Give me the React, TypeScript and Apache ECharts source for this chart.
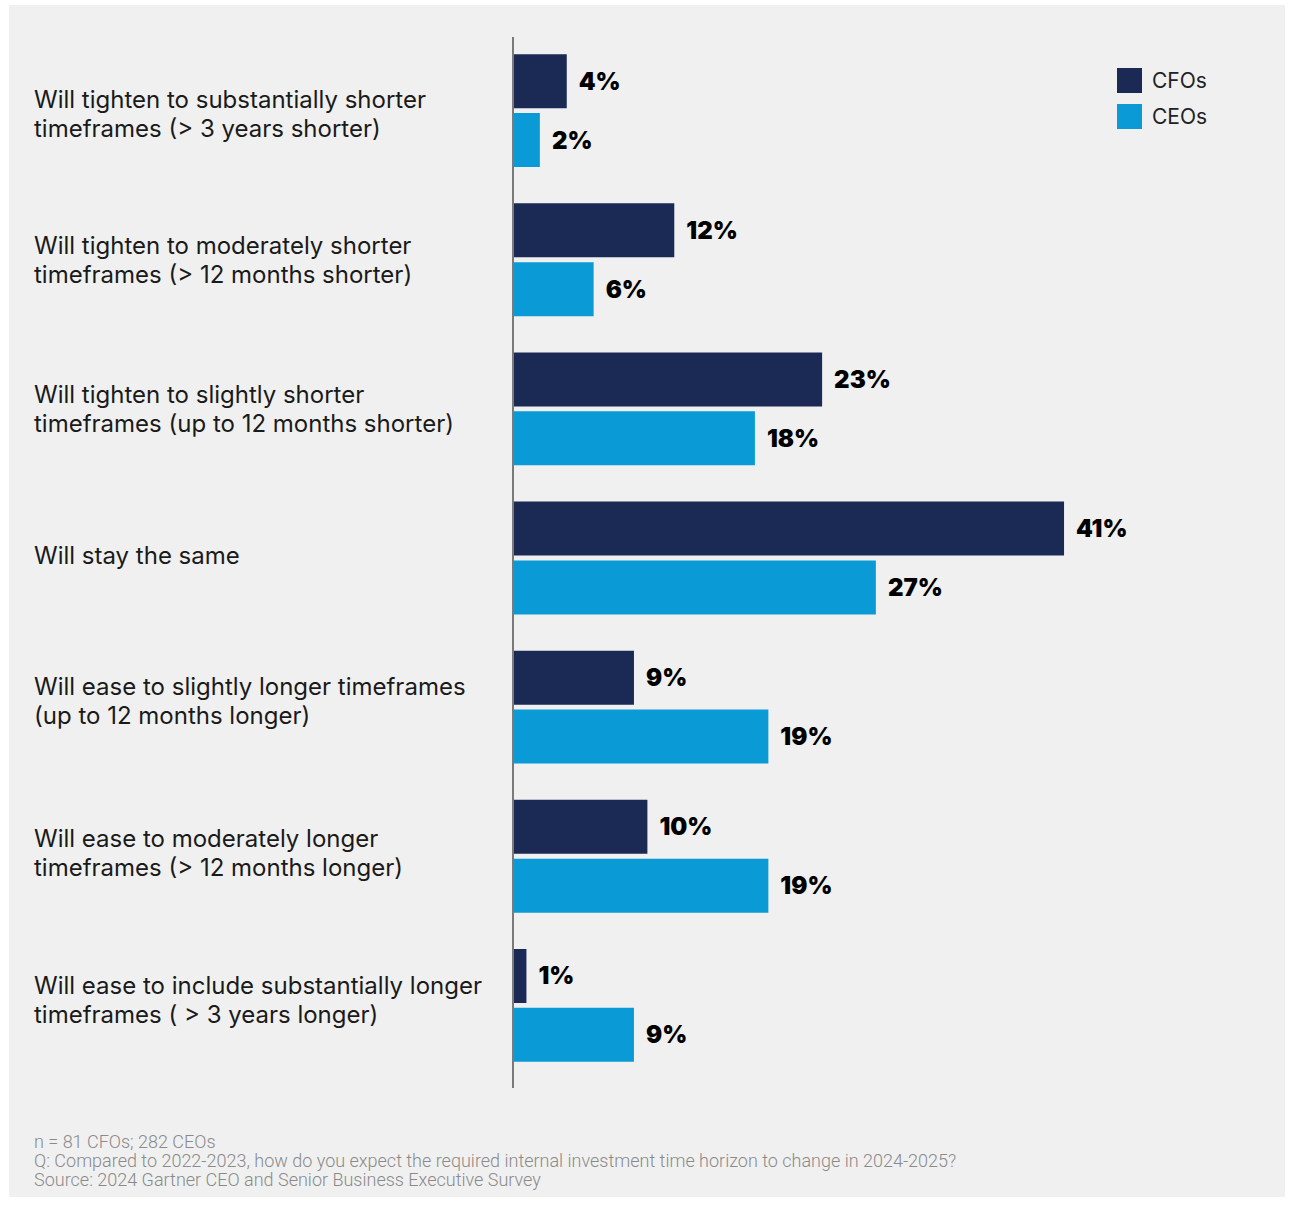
import React, { useEffect, useRef } from "react";
import * as echarts from "echarts";

const categories = [
  "Will tighten to substantially shorter\ntimeframes (> 3 years shorter)",
  "Will tighten to moderately shorter\ntimeframes (> 12 months shorter)",
  "Will tighten to slightly shorter\ntimeframes (up to 12 months shorter)",
  "Will stay the same",
  "Will ease to slightly longer timeframes\n(up to 12 months longer)",
  "Will ease to moderately longer\ntimeframes (> 12 months longer)",
  "Will ease to include substantially longer\ntimeframes ( > 3 years longer)",
];
const labelShifts = [3, 0, 0, -3, -6, -3, -5];
const seriesNames = ["CFOs", "CEOs"];
const cfoValues = [4, 12, 23, 41, 9, 10, 1];
const ceoValues = [2, 6, 18, 27, 19, 19, 9];
const footnotes = [
  "n = 81 CFOs; 282 CEOs",
  "Q: Compared to 2022-2023, how do you expect the required internal investment time horizon to change in 2024-2025?",
  "Source: 2024 Gartner CEO and Senior Business Executive Survey",
];

const CFO_COLOR = "#1a2a55";
const CEO_COLOR = "#0a9bd6";

export default function App() {
  const ref = useRef<HTMLDivElement>(null);
  useEffect(() => {
    document.body.style.margin = "0";
    const chart = echarts.init(ref.current!, null, { renderer: "svg" });
    const labelStyle = {
      show: true,
      position: "right",
      distance: 12,
      formatter: "{c}%",
      fontSize: 24,
      fontWeight: 900,
      fontFamily: "Inter",
      color: "#000",
    };
    const rich: Record<string, any> = {
      t: { fontSize: 24, lineHeight: 29, fontFamily: "Inter", color: "#1a1a1a" },
    };
    labelShifts.forEach((s) => {
      const h = Math.abs(s) * 2;
      if (h > 0) rich["sp" + h] = { fontSize: 1, lineHeight: h, height: h };
    });
    const catIndex = (v: string) => categories.indexOf(v);
    chart.setOption({
      animation: false,
      backgroundColor: "#ffffff",
      graphic: [
        {
          type: "rect",
          z: -10,
          silent: true,
          shape: { x: 9, y: 5, width: 1276, height: 1192 },
          style: { fill: "#f0f0f0" },
        },
        {
          type: "line",
          z: 10,
          shape: { x1: 513, y1: 37, x2: 513, y2: 1088 },
          style: { stroke: "#7a7a7a", lineWidth: 2 },
        },
        {
          type: "text",
          left: 34,
          top: 1132,
          style: {
            text: footnotes.join("\n"),
            fontSize: 18,
            lineHeight: 19,
            fontFamily: "Roboto",
            fontWeight: 300,
            fill: "#8a8a8a",
          },
        },
      ],
      legend: {
        orient: "vertical",
        left: 1112,
        top: 63,
        itemWidth: 25,
        itemHeight: 25,
        itemGap: 11,
        icon: "rect",
        data: seriesNames,
        textStyle: { fontSize: 21, fontFamily: "Inter", color: "#222", padding: [0, 0, 0, 5] },
      },
      grid: {
        left: 513,
        top: 36,
        width: 672,
        height: 1044,
        containLabel: false,
        outerBoundsMode: "none",
      },
      xAxis: {
        type: "value",
        min: 0,
        max: 50,
        show: false,
      },
      yAxis: {
        type: "category",
        inverse: true,
        data: categories,
        axisLine: { show: false },
        axisTick: { show: false },
        axisLabel: {
          align: "left",
          margin: 479,
          fontSize: 24,
          lineHeight: 29,
          fontFamily: "Inter",
          color: "#1a1a1a",
          rich,
          formatter: (value: string) => {
            const i = catIndex(value);
            const s = i >= 0 ? labelShifts[i] : 0;
            const lines = value.split("\n").map((l) => `{t|${l}}`);
            const h = Math.abs(s) * 2;
            if (s > 0) lines.unshift(`{sp${h}| }`);
            if (s < 0) lines.push(`{sp${h}| }`);
            return lines.join("\n");
          },
        },
      },
      series: [
        {
          name: seriesNames[0],
          type: "bar",
          data: cfoValues,
          barWidth: 54,
          barGap: "9%",
          itemStyle: { color: CFO_COLOR },
          label: labelStyle,
        },
        {
          name: seriesNames[1],
          type: "bar",
          data: ceoValues,
          barWidth: 54,
          itemStyle: { color: CEO_COLOR },
          label: labelStyle,
        },
      ],
    });
    return () => chart.dispose();
  }, []);
  return <div ref={ref} style={{ width: 1293, height: 1205 }} />;
}
